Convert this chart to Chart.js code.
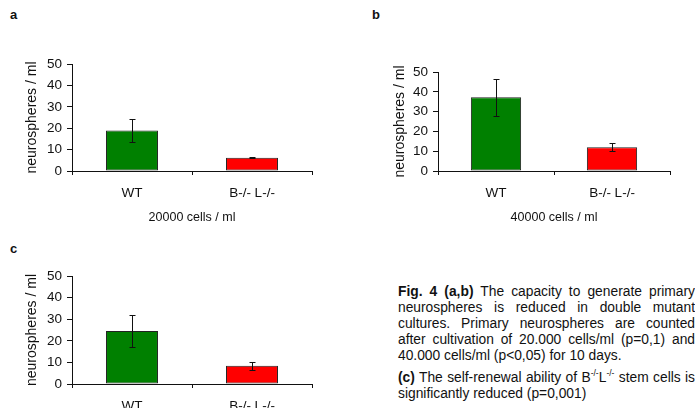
<!DOCTYPE html>
<html>
<head>
<meta charset="utf-8">
<script src="https://cdn.jsdelivr.net/npm/chart.js@4/dist/chart.umd.min.js"></script>
<style>
  body { margin: 0; width: 695px; height: 408px; overflow: hidden; background: #fff;
         font-family: 'Liberation Sans', Arial, sans-serif; color: #111; position: relative; }
  canvas { position: absolute; }
  .panel { position: absolute; font-weight: bold; font-size: 13px; }
  .caption { position: absolute; left: 398px; top: 284px; width: 297px; font-size: 13.8px;
             line-height: 16px; text-align: justify; }
  .caption p { margin: 0 0 6px 0; }
  sup { font-size: 8.5px; line-height: 0; }
</style>
</head>
<body>
<div class="panel" style="left:10px; top:7px;">a</div>
<div class="panel" style="left:372px; top:7px;">b</div>
<div class="panel" style="left:10px; top:241px;">c</div>

<canvas id="chart-a" width="330" height="180" style="left:0; top:50px;"></canvas>
<canvas id="chart-b" width="330" height="180" style="left:360px; top:50px;"></canvas>
<canvas id="chart-c" width="330" height="160" style="left:0; top:262px;"></canvas>

<div class="caption">
  <p><b>Fig. 4 (a,b)</b> The capacity to generate primary neurospheres is reduced in double mutant cultures. Primary neurospheres are counted after cultivation of 20.000 cells/ml (p=0,1) and 40.000 cells/ml (p&lt;0,05) for 10 days.</p>
  <p><b>(c)</b> The self-renewal ability of B<sup>-/-</sup>L<sup>-/-</sup> stem cells is significantly reduced (p=0,001)</p>
</div>

<script>
// Data
const categories = ['WT', 'B-/- L-/-'];
const valuesA = [18.9, 6.2];
const errorsA = [5.4, 0.2];
const valuesB = [37.2, 12.0];
const errorsB = [9.2, 2.1];
const valuesC = [24.5, 8.5];
const errorsC = [7.3, 1.9];
const yMin = 0;
const yMax = 50;
const yStep = 10;

const barColors = ['#008000', '#ff0000'];
const FONT = "'Liberation Sans', Arial, sans-serif";

// draws the +/- error whiskers on top of the bars
const errorBars = {
  id: 'errorBars',
  afterDatasetsDraw(chart, args, opts) {
    const ctx = chart.ctx;
    const meta = chart.getDatasetMeta(0);
    const yScale = chart.scales.y;
    const values = chart.data.datasets[0].data;
    ctx.save();
    ctx.strokeStyle = '#111';
    ctx.lineWidth = 1;
    meta.data.forEach((bar, i) => {
      const err = opts.errors[i];
      const x = Math.round(bar.x) + 0.5;
      const top = Math.round(yScale.getPixelForValue(values[i] + err)) + 0.5;
      const bottom = Math.round(yScale.getPixelForValue(values[i] - err)) + 0.5;
      ctx.beginPath();
      ctx.moveTo(x, top);
      ctx.lineTo(x, bottom);
      ctx.moveTo(x - 3, top);
      ctx.lineTo(x + 3, top);
      ctx.moveTo(x - 3, bottom);
      ctx.lineTo(x + 3, bottom);
      ctx.stroke();
    });
    ctx.restore();
  },
};

function makeChart(id, values, errors, cfg) {
  const ctx = document.getElementById(id).getContext('2d');
  return new Chart(ctx, {
    type: 'bar',
    data: {
      labels: categories,
      datasets: [{
        data: values,
        backgroundColor: barColors,
        borderColor: '#222',
        borderWidth: 1,
        borderSkipped: false,
        categoryPercentage: 1,
        barPercentage: 0.433,
      }],
    },
    options: {
      responsive: false,
      animation: false,
      layout: { padding: { top: cfg.padTop, right: cfg.padRight, left: 0, bottom: 0 } },
      plugins: {
        legend: { display: false },
        tooltip: { enabled: false },
        errorBars: { errors },
      },
      scales: {
        x: {
          grid: { display: true, drawOnChartArea: false, drawTicks: true, tickLength: 4, color: '#111', offset: true },
          border: { display: true, color: '#111', width: 1 },
          ticks: { color: '#111', padding: 10, font: { family: FONT, size: 13.5 } },
          title: {
            display: !!cfg.xTitle,
            text: cfg.xTitle || '',
            color: '#111',
            font: { family: FONT, size: 12.5 },
            padding: { top: 0, bottom: 5 },
          },
          afterFit(scale) { scale.height = cfg.xHeight; },
        },
        y: {
          min: yMin,
          max: yMax,
          grid: { display: true, drawOnChartArea: false, drawTicks: true, tickLength: 5, color: '#111' },
          border: { display: true, color: '#111', width: 1 },
          ticks: { stepSize: yStep, color: '#111', padding: 5, font: { family: FONT, size: 13.5 } },
          title: {
            display: true,
            text: 'neurospheres / ml',
            color: '#111',
            font: { family: FONT, size: 14 },
            padding: { top: cfg.yTitlePad, bottom: 0 },
          },
          afterFit(scale) { scale.width = cfg.yWidth; },
        },
      },
    },
    plugins: [errorBars],
  });
}

makeChart('chart-a', valuesA, errorsA, {
  padTop: 14, padRight: 18, yWidth: 72, xHeight: 59, yTitlePad: 23.6, xTitle: '20000 cells / ml',
});
makeChart('chart-b', valuesB, errorsB, {
  padTop: 22, padRight: 20, yWidth: 78, xHeight: 59, yTitlePad: 31.6, xTitle: '40000 cells / ml',
});
makeChart('chart-c', valuesC, errorsC, {
  padTop: 14, padRight: 18, yWidth: 72, xHeight: 38, yTitlePad: 23.6, xTitle: '',
});
</script>
</body>
</html>
